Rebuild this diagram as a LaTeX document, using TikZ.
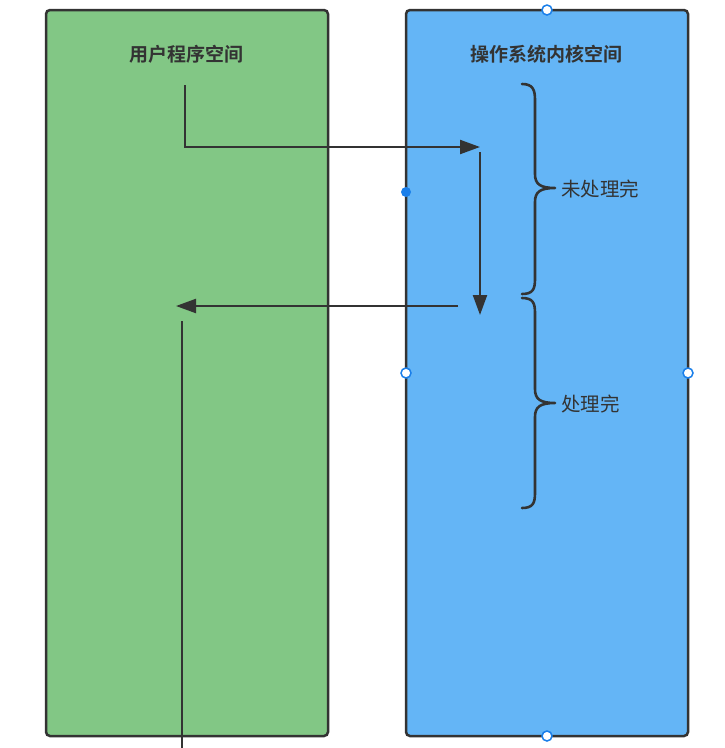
\documentclass[tikz,border=0pt]{standalone}
\usepackage{fontspec}
\newfontfamily\cjk{Noto Sans CJK SC}
\newfontfamily\cjkb{Noto Sans CJK SC Bold}
\usetikzlibrary{arrows.meta}
\definecolor{ink}{HTML}{333333}
\definecolor{usergreen}{HTML}{82C785}
\definecolor{kernblue}{HTML}{64B5F6}
\definecolor{handle}{HTML}{1A7FEA}
\tikzset{
  spacebox/.style={draw=ink, line width=2.5pt, rounded corners=4pt, minimum width=282pt, minimum height=726pt, inner sep=0pt, outer sep=0pt},
  titletext/.style={text=ink, font=\cjkb\fontsize{19}{21}\selectfont, inner sep=0pt},
  labeltext/.style={text=ink, font=\cjk\fontsize{19.5}{21}\selectfont, inner sep=0pt, anchor=west},
  flow/.style={draw=ink, line width=2.2pt, -{Triangle[length=20pt,width=14pt]}},
  plain/.style={draw=ink, line width=2.2pt},
  bracepath/.style={draw=ink, line width=2.6pt, line cap=round, line join=round},
  handleo/.style={circle, draw=handle, fill=white, line width=1.5pt, minimum size=10pt, inner sep=0pt},
  handlef/.style={circle, fill=handle, minimum size=10pt, inner sep=0pt}
}
\begin{document}
\begin{tikzpicture}[x=1pt, y=-1pt]
\useasboundingbox (0,0) rectangle (725,748);
\node[spacebox, fill=usergreen] (user) at (187,373) {};
\node[spacebox, fill=kernblue] (kern) at (547,373) {};
\node[titletext] (ut) at (186,54) {用户程序空间};
\node[titletext] (kt) at (546,54) {操作系统内核空间};
% connectors
\coordinate (a1) at (185,85);
\coordinate (a2) at (185,147);
\coordinate (a3) at (480,147);
\coordinate (b1) at (480,152);
\coordinate (b2) at (480,315);
\coordinate (c1) at (458,306);
\coordinate (c2) at (176,306);
\coordinate (d1) at (182,321);
\coordinate (d2) at (182,752);
\draw[flow] (a1) -- (a2) -- (a3);
\draw[flow] (b1) -- (b2);
\draw[flow] (c1) -- (c2);
\draw[plain] (d1) -- (d2);
% braces
\coordinate (br1) at (555,188);
\coordinate (br2) at (555,403);
\draw[bracepath] (522,84) .. controls (533,84) and (535,90) .. (535,100)
  -- (535,174) .. controls (535,184) and (540,188) .. (br1)
  .. controls (540,188) and (535,192) .. (535,202)
  -- (535,279) .. controls (535,289) and (533,294) .. (522,294);
\draw[bracepath] (522,298) .. controls (533,298) and (535,303) .. (535,313)
  -- (535,389) .. controls (535,399) and (540,403) .. (br2)
  .. controls (540,403) and (535,407) .. (535,417)
  -- (535,493) .. controls (535,503) and (533,508) .. (522,508);
\node[labeltext] (l1) at (561,189) {未处理完};
\node[labeltext] (l2) at (561,404) {处理完};
% selection handles
\node[handleo] (h1) at (kern.north) {};
\node[handleo] (h2) at (kern.west) {};
\node[handleo] (h3) at (kern.east) {};
\node[handleo] (h4) at (kern.south) {};
\node[handlef] (h5) at (406,192) {};
\end{tikzpicture}
\end{document}
